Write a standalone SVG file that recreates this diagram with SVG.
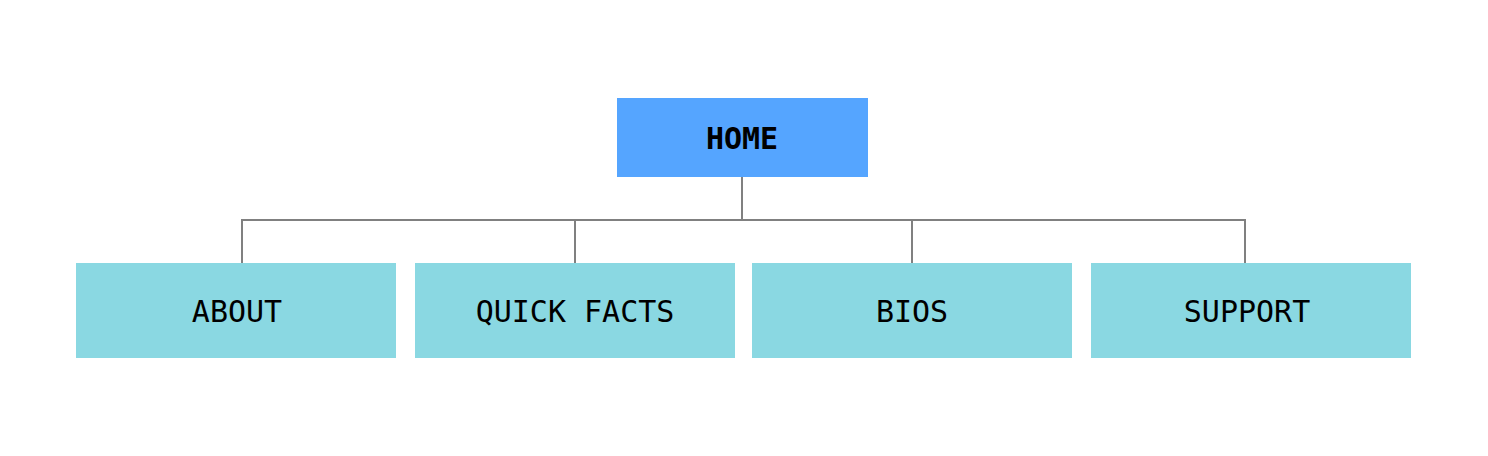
<svg xmlns="http://www.w3.org/2000/svg" width="1488" height="456" viewBox="0 0 1488 456">
<style>
.home{fill:#55a5ff}
.child{fill:#8ad8e2}
.lbl{font-family:"DejaVu Sans Mono","Liberation Mono",monospace;font-size:30px;fill:#000;text-anchor:middle}
.conn{fill:none;stroke:#808080;stroke-width:2}
</style>
<rect width="1488" height="456" fill="#fff"/>
<g id="connectors">
<path class="conn" d="M742 177V220M242 263V220H1245V263M575 220V263M912 220V263"/>
</g>
<g id="home"><rect class="home" x="617" y="98" width="251" height="79"/><text class="lbl" x="742" y="149" font-weight="bold">HOME</text></g>
<g id="about"><rect class="child" x="76" y="263" width="320" height="95"/><text class="lbl" x="237" y="322">ABOUT</text></g>
<g id="quickfacts"><rect class="child" x="415" y="263" width="320" height="95"/><text class="lbl" x="575" y="322">QUICK FACTS</text></g>
<g id="bios"><rect class="child" x="752" y="263" width="320" height="95"/><text class="lbl" x="912" y="322">BIOS</text></g>
<g id="support"><rect class="child" x="1091" y="263" width="320" height="95"/><text class="lbl" x="1247" y="322">SUPPORT</text></g>
</svg>
